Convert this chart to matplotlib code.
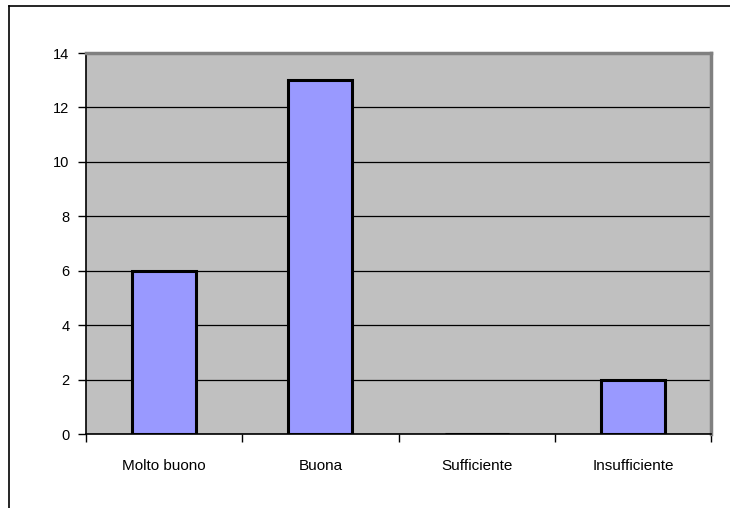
import matplotlib
matplotlib.use("Agg")
import matplotlib.pyplot as plt
from matplotlib.lines import Line2D
import numpy as np

categories = ["Molto buono", "Buona", "Sufficiente", "Insufficiente"]
values = [6, 13, 0, 2]
y_ticks = [0, 2, 4, 6, 8, 10, 12, 14]

W, H = 730, 508
fig = plt.figure(figsize=(W / 100, H / 100), dpi=100)
fig.patch.set_facecolor("white")

# chart area frame (top and left edges)
fig.add_artist(Line2D([9 / W, 1.0], [1 - 6 / H, 1 - 6 / H], color="black", lw=1.2, transform=fig.transFigure))
fig.add_artist(Line2D([9 / W, 9 / W], [0.0, 1 - 6 / H], color="black", lw=1.2, transform=fig.transFigure))

left, right, top, bottom = 86, 711, 53, 434
ax = fig.add_axes([left / W, 1 - bottom / H, (right - left) / W, (bottom - top) / H])
ax.set_facecolor("#C0C0C0")

x = np.arange(len(categories))
ax.bar(x, values, width=0.41, color="#9999FF", edgecolor="black", linewidth=2.2, zorder=3)

ax.set_xlim(-0.5, len(categories) - 0.5)
ax.set_ylim(0, 14)
ax.set_yticks(y_ticks)
ax.set_yticklabels([str(v) for v in y_ticks], fontsize=10.5, family="Liberation Sans")
ax.yaxis.grid(True, color="black", linewidth=0.9, zorder=1)
ax.set_axisbelow(True)

ax.set_xticks(x)
ax.set_xticklabels(categories, fontsize=11, family="Liberation Sans")
ax.tick_params(axis="x", which="major", length=0, pad=18)
ax.set_xticks(np.arange(-0.5, len(categories)), minor=True)
ax.tick_params(axis="x", which="minor", length=6, width=1, color="black", direction="out")
ax.tick_params(axis="y", length=6, width=1, color="black", direction="out", pad=6)

for s in ("left", "bottom"):
    ax.spines[s].set_color("black")
    ax.spines[s].set_linewidth(1.2)
for s in ("top", "right"):
    ax.spines[s].set_color("#808080")
    ax.spines[s].set_linewidth(2.5)

fig.savefig("out.png", dpi=100, facecolor="white")
